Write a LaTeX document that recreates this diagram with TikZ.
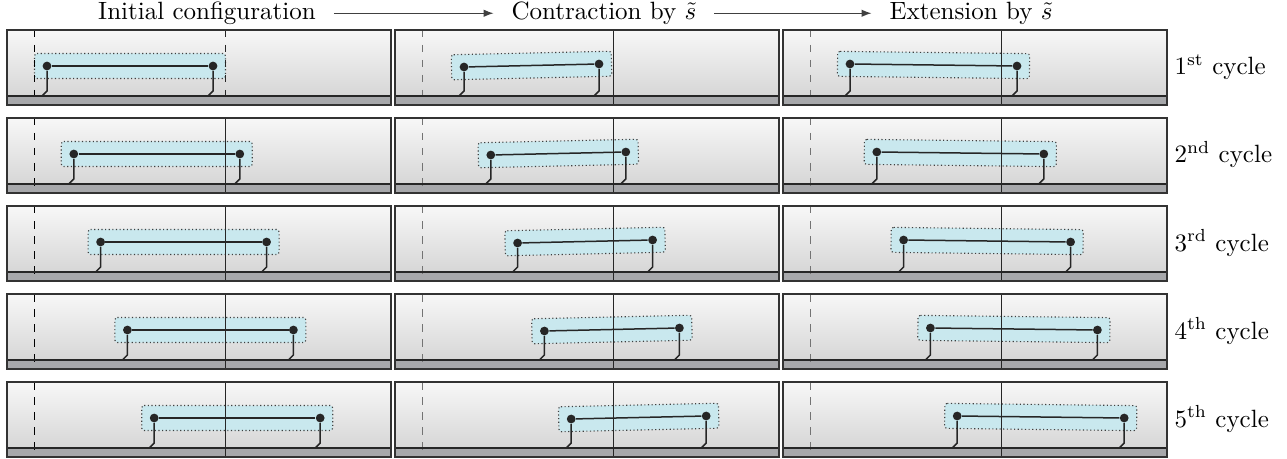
\documentclass[tikz,border=0pt]{standalone}
\usetikzlibrary{calc,arrows.meta}
\pgfdeclarelayer{background}
\pgfsetlayers{background,main}
\definecolor{hullblue}{HTML}{C9E8EE}
\definecolor{groundgray}{HTML}{A7A8AB}
\begin{document}
\begin{tikzpicture}[x=0.4pt,y=-0.4pt,
    ball/.style={circle,fill=black!85,inner sep=0pt,minimum size=3.5pt},
    rod/.style={line width=0.6pt,black!85},
    leg/.style={line width=0.6pt,black!85},
    hull/.style={fill=hullblue,draw=black!75,densely dotted,line width=0.45pt,rounded corners=1pt},
    guide/.style={line width=0.4pt},
    panel/.style={draw=black!80,line width=0.5pt},
    flow/.style={-{Latex[length=4pt,width=3pt]},black!75,line width=0.5pt},
    cyc/.style={anchor=base west,inner sep=0pt}]

      \useasboundingbox (0,0) rectangle (1287,459);

      \begin{scope}[every node/.style={anchor=base,inner xsep=7pt,inner ysep=0pt,text height=1.5ex,text depth=.25ex}]
        \node (init)  at (207,20) {Initial configuration};
        \node (contr) at (604,20) {Contraction by $\tilde{s}$};
        \node (ext)   at (971,20) {Extension by $\tilde{s}$};
      \end{scope}
      \draw[flow] (init) -- (contr);
      \draw[flow] (contr) -- (ext);

      \foreach \r/\sfx in {1/st,2/nd,3/rd,4/th,5/th}{
        \pgfmathsetmacro{\yt}{30+88*(\r-1)}
        \pgfmathsetmacro{\sh}{26.8*(\r-1)}
        \foreach \c/\x/\la/\lb/\ra/\rb/\lc in {1/7/40/36/206/36/black, 2/395/69/37/204/34/black!55, 3/783/67/34/234/36/black!55}{
          \ifnum\c\r=11 \def\midstyle{dashed}\else\def\midstyle{solid}\fi
          \begin{pgfonlayer}{background}
            \shade[top color=black!3,bottom color=black!16] (\x,\yt) rectangle ++(384,66);
            \fill[groundgray] (\x,\yt+66) rectangle ++(384,9);
          \end{pgfonlayer}
          \node[ball] (l\c\r) at (\x+\la+\sh,\yt+\lb) {};
          \node[ball] (r\c\r) at (\x+\ra+\sh,\yt+\rb) {};
          \begin{pgfonlayer}{background}
            \draw[hull] ($(l\c\r)!-5pt!(r\c\r)!5pt!90:(r\c\r)$) -- ($(r\c\r)!-5pt!(l\c\r)!5pt!-90:(l\c\r)$)
              -- ($(r\c\r)!-5pt!(l\c\r)!5pt!90:(l\c\r)$) -- ($(l\c\r)!-5pt!(r\c\r)!5pt!-90:(r\c\r)$) -- cycle;
          \end{pgfonlayer}
          \draw[guide,dashed,\lc] (\x+27,\yt) -- ++(0,75);
          \draw[guide,\midstyle,black!85] (\x+218.5,\yt) -- ++(0,75);
          \coordinate (lk\c\r) at (\x+\la+\sh,\yt+61);
          \coordinate (lf\c\r) at (\x+\la+\sh-5,\yt+66);
          \coordinate (rk\c\r) at (\x+\ra+\sh,\yt+61);
          \coordinate (rf\c\r) at (\x+\ra+\sh-5,\yt+66);
          \draw[leg] (l\c\r) -- (lk\c\r) -- (lf\c\r);
          \draw[leg] (r\c\r) -- (rk\c\r) -- (rf\c\r);
          \draw[rod] (l\c\r) -- (r\c\r);
          \draw[line width=0.5pt,black!85] (\x,\yt+66) -- ++(384,0);
          \draw[panel] (\x,\yt) rectangle ++(384,75);
        }
        \node[cyc] (cyc\r) at (1174,\yt+45) {$\r^{\mathrm{\sfx}}$ cycle};
      }

    \end{tikzpicture}
\end{document}
